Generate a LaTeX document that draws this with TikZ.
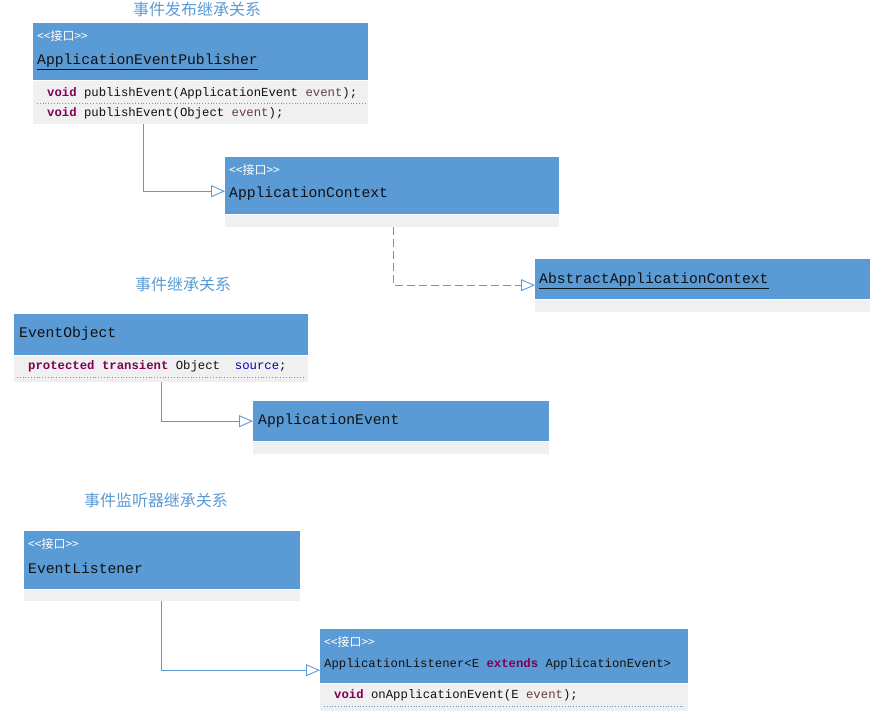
\documentclass[tikz,border=0pt]{standalone}
\usepackage{fontspec}
\setmonofont{Liberation Mono}
\newfontfamily\cjk{Noto Sans CJK SC}
\usetikzlibrary{arrows.meta,calc}
\definecolor{umlblue}{HTML}{5B9BD5}
\definecolor{umlgray}{HTML}{F0F0F0}
\definecolor{kwc}{HTML}{7F0055}
\definecolor{varc}{HTML}{6A3E3E}
\definecolor{fldc}{HTML}{0000C0}
\definecolor{txtc}{HTML}{111111}
\definecolor{linec}{HTML}{5B9BD5}
\newcommand{\kwd}[1]{\textcolor{kwc}{\bfseries #1}}
\newcommand{\varn}[1]{\textcolor{varc}{#1}}
\newcommand{\fldn}[1]{\textcolor{fldc}{#1}}

\begin{document}
\begin{tikzpicture}[
  x=1pt, y=-1pt,
  hdr/.style={fill=umlblue, anchor=north west, inner sep=0pt, minimum height=#1},
  body/.style={fill=umlgray, anchor=north west, inner sep=0pt, minimum height=#1},
  ttl/.style={font=\cjk\fontsize{16}{18}\selectfont, text=umlblue, inner sep=0pt},
  stereo/.style={font=\cjk\fontsize{12}{14}\selectfont, text=white, anchor=west, inner sep=0pt},
  cname/.style={font=\ttfamily\fontsize{14.7}{16}\selectfont, text=txtc, anchor=west, inner sep=0pt},
  meth/.style={font=\ttfamily\fontsize{12.3}{14}\selectfont, text=txtc, anchor=west, inner sep=0pt},
  sep/.style={draw=linec, line width=0.8pt, dotted},
  inh/.style={draw=linec, line width=0.9pt, -{Triangle[open, length=14pt, width=12pt, fill=white]}},
  impl/.style={inh, dash pattern=on 8pt off 4pt},
]
% --- titles ---
\node[ttl] (t1) at (197,9)   {事件发布继承关系};
\node[ttl] (t2) at (183,284) {事件继承关系};
\node[ttl] (t3) at (156,500) {事件监听器继承关系};
% --- ApplicationEventPublisher ---
\node[hdr=57pt, minimum width=335pt] (pub) at (33,23) {};
\node[body=43pt, minimum width=335pt] (pubb) at (33,81) {};
\node[stereo] (pubst) at (37,36) {<<接口>>};
\node[cname] (pubnm) at (37,62) {\underline{ApplicationEventPublisher}};
\node[meth] (pubm1) at (47,93) {\kwd{void} publishEvent(ApplicationEvent \varn{event});};
\draw[sep] (37,103) -- (365,103);
\node[meth] (pubm2) at (47,113) {\kwd{void} publishEvent(Object \varn{event});};
% --- ApplicationContext ---
\node[hdr=57pt, minimum width=334pt] (ctx) at (225,157) {};
\node[body=12pt, minimum width=334pt] (ctxb) at (225,215) {};
\node[stereo] (ctxst) at (229,170) {<<接口>>};
\node[cname] (ctxnm) at (229,194) {ApplicationContext};
% --- AbstractApplicationContext ---
\node[hdr=40pt, minimum width=335pt] (absctx) at (535,259) {};
\node[body=12pt, minimum width=335pt] (absctxb) at (535,300) {};
\node[cname] (absnm) at (539,281) {\underline{AbstractApplicationContext}};
% --- EventObject ---
\node[hdr=41pt, minimum width=294pt] (evobj) at (14,314) {};
\node[body=26pt, minimum width=294pt] (evobjb) at (14,356) {};
\node[cname] (evobjnm) at (19,334) {EventObject};
\node[meth] (evobjf) at (28,366) {\kwd{protected} \kwd{transient} Object~~\fldn{source};};
\draw[sep] (17,377) -- (305,377);
% --- ApplicationEvent ---
\node[hdr=40pt, minimum width=296pt] (appevt) at (253,401) {};
\node[body=12pt, minimum width=296pt] (appevtb) at (253,442) {};
\node[cname] (appevtnm) at (258,421) {ApplicationEvent};
% --- EventListener ---
\node[hdr=58pt, minimum width=276pt] (evlis) at (24,531) {};
\node[body=11pt, minimum width=276pt] (evlisb) at (24,590) {};
\node[stereo] (evlisst) at (28,544) {<<接口>>};
\node[cname] (evlisnm) at (28,568) {EventListener};
% --- ApplicationListener ---
\node[hdr=54pt, minimum width=368pt] (applis) at (320,629) {};
\node[body=27pt, minimum width=368pt] (applisb) at (320,684) {};
\node[stereo] (applisst) at (324,642) {<<接口>>};
\node[meth] (applisnm) at (324,664) {ApplicationListener<E \kwd{extends} ApplicationEvent>};
\node[meth] (applism) at (334,695) {\kwd{void} onApplicationEvent(E \varn{event});};
\draw[sep] (324,706) -- (684,706);
% --- arrows ---
\draw[inh]  ($(pubb.south west)+(110,0)$)   |- ($(ctx.west)+(0,5.5)$);
\draw[impl] ($(ctxb.south west)+(168,0)$)   |- ($(absctx.west)+(0,6)$);
\draw[inh]  ($(evobjb.south west)+(147,0)$) |- (appevt.west);
\draw[inh]  ($(evlisb.south west)+(137,0)$) |- ($(applis.west)+(0,14)$);
\useasboundingbox (0,0) rectangle (887,722);
\end{tikzpicture}
\end{document}
